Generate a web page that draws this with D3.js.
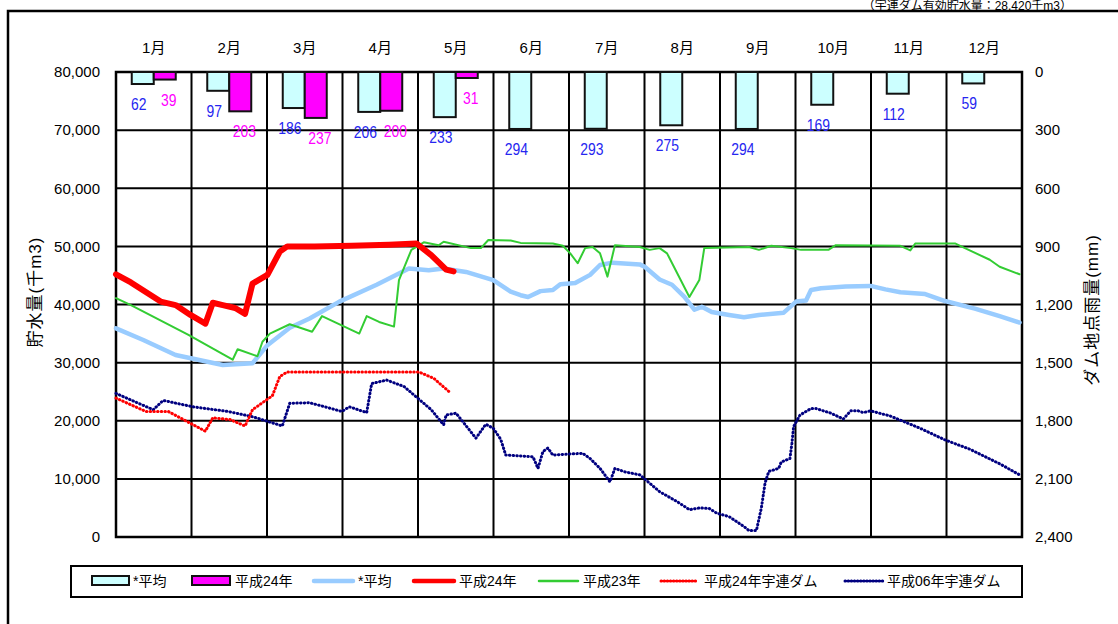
<!DOCTYPE html>
<html><head><meta charset="utf-8">
<script src="https://cdn.jsdelivr.net/npm/d3@7"></script>
<style>
body{margin:0;background:#fff}
svg{display:block}
text{font-family:"Liberation Sans","Noto Sans CJK JP",sans-serif;fill:#000}
</style>
</head><body>
<svg id="c" width="1118" height="624"></svg>
<script>
// ---------- data ----------
const months = ["1月","2月","3月","4月","5月","6月","7月","8月","9月","10月","11月","12月"];
const rainAvg = [62,97,186,206,233,294,293,275,294,169,112,59];
const rainH24 = [39,203,237,200,31,null,null,null,null,null,null,null];
const storageTicks = [0,10000,20000,30000,40000,50000,60000,70000,80000];
const rainTicks = [0,300,600,900,1200,1500,1800,2100,2400];

// [day of year, storage (千m3)]
const avgStorage = [[0,35900],[11,33900],[24,31300],[43,29600],[55,29900],[61,33000],[70,36000],[78,37600],[90,40500],[105,43400],[118,46200],[126,45900],[132,46200],[141,45600],[152,44200],[159,42200],[163,41600],[166,41300],[171,42300],[176,42500],[179,43500],[185,43700],[191,45100],[195,46800],[200,47200],[211,46900],[213,46500],[219,44300],[224,43400],[229,41300],[233,39100],[236,39600],[240,38700],[247,38200],[253,37800],[259,38200],[269,38600],[274,40500],[278,40700],[280,42500],[284,42800],[294,43100],[304,43200],[310,42600],[316,42100],[326,41800],[334,40600],[346,39300],[356,38000],[364,36900]];
const h24Storage = [[0,45200],[6,43800],[18,40500],[24,39900],[30,38200],[36,36700],[39,40300],[43,39900],[48,39400],[52,38400],[55,43600],[61,45100],[66,49100],[69,50000],[80,50000],[95,50100],[110,50300],[121,50500],[127,48500],[133,46000],[136,45700]];
const h23Storage = [[0,41100],[6,39900],[29,34800],[47,30500],[49,32300],[57,31100],[59,33600],[62,35000],[70,36600],[79,35300],[83,38000],[98,35000],[101,38000],[106,37000],[112,36200],[114,44200],[119,49400],[124,50700],[130,50200],[132,50800],[143,49700],[147,49700],[150,51100],[159,51000],[163,50600],[176,50500],[180,50100],[183,48800],[186,47100],[189,49700],[192,49900],[195,48800],[198,44800],[201,50200],[211,49900],[215,49400],[219,49700],[222,48800],[231,41300],[235,44200],[237,49700],[255,49900],[259,49400],[264,50100],[272,49700],[276,49400],[287,49400],[290,50200],[316,50100],[320,49300],[322,50500],[338,50500],[342,49700],[352,47700],[356,46500],[364,45200]];
const h24Ure = [[0,23900],[12,21600],[21,21600],[36,18200],[39,20500],[46,20200],[52,19100],[55,21900],[63,24300],[66,27600],[69,28400],[122,28400],[128,27300],[135,24700]];
const h06Ure = [[0,24700],[15,21900],[19,23500],[31,22400],[45,21600],[55,20700],[67,19100],[70,23000],[78,23100],[91,21600],[94,22400],[101,21400],[103,26400],[109,27000],[116,25900],[127,21900],[132,19300],[133,21000],[137,21300],[145,17000],[149,19400],[152,18700],[155,16800],[157,14100],[168,13800],[170,11800],[172,14700],[174,15300],[176,14100],[188,14400],[191,13500],[195,11800],[199,9500],[201,11800],[205,11200],[211,10700],[219,7800],[226,6100],[231,4700],[235,5000],[239,4900],[242,4100],[247,3500],[253,1800],[255,1100],[258,1100],[260,5000],[261.5,9300],[263,11300],[267,11800],[268,12900],[271.5,13500],[272.3,16100],[273,19000],[274.4,20100],[275.6,21000],[280,22100],[282,22100],[288,21300],[293,20300],[296,21700],[299,21700],[301,21400],[304,21700],[312,20800],[316,20100],[324,18700],[334,16700],[344,15100],[356,12600],[364,10700]];

const legendLabels = ["*平均","平成24年","*平均","平成24年","平成23年","平成24年宇連ダム","平成06年宇連ダム"];

// ---------- layout ----------
const L = 116, R = 1022, T = 72, B = 537;
const svg = d3.select("#c");

const xMonth = d3.scaleBand().domain(months).range([L, R]).paddingInner(0).paddingOuter(0);
const xSub = d3.scaleBand().domain(["avg","h24"]).range([15.75, 59.75]);
const xDay = d3.scaleLinear().domain([0, 365]).range([L, R]);
const yS = d3.scaleLinear().domain([0, 80000]).range([B, T]);
const yR = d3.scaleLinear().domain([0, 2400]).range([T, B]);

// outer frame
svg.append("rect").attr("x", 8).attr("y", 11).attr("width", 1200).attr("height", 700)
  .attr("fill", "none").attr("stroke", "#000").attr("stroke-width", 2.5);

// top note
svg.append("text").attr("x", 1072).attr("y", 9.5).attr("text-anchor", "end")
  .style("font-size", "12px").text("（宇連ダム有効貯水量：28,420千m3）");

// grid
const grid = svg.append("g");
grid.selectAll("line.h").data(storageTicks).join("line")
  .attr("x1", L).attr("x2", R).attr("y1", d => yS(d)).attr("y2", d => yS(d))
  .attr("stroke", "#000").attr("stroke-width", 2);
grid.selectAll("line.v").data(months.slice(1)).join("line")
  .attr("x1", d => xMonth(d)).attr("x2", d => xMonth(d)).attr("y1", T).attr("y2", B)
  .attr("stroke", "#000").attr("stroke-width", 2);
svg.append("rect").attr("x", L).attr("y", T).attr("width", R - L).attr("height", B - T)
  .attr("fill", "none").attr("stroke", "#000").attr("stroke-width", 2.5);

// axes
const axL = d3.axisLeft(yS).tickValues(storageTicks).tickSize(0).tickPadding(16).tickFormat(d3.format(","));
const gL = svg.append("g").attr("transform", `translate(${L},0)`).call(axL);
gL.select(".domain").remove();
gL.selectAll("text").style("font-size", "15px").attr("fill", "#000").style("font-family", '"Liberation Sans",sans-serif');

const axR = d3.axisRight(yR).tickValues(rainTicks).tickSize(0).tickPadding(13).tickFormat(d3.format(","));
const gR = svg.append("g").attr("transform", `translate(${R},0)`).call(axR);
gR.select(".domain").remove();
gR.selectAll("text").style("font-size", "15px").attr("fill", "#000").style("font-family", '"Liberation Sans",sans-serif');

const axT = d3.axisTop(xMonth).tickSize(0).tickPadding(19);
const gT = svg.append("g").attr("transform", `translate(0,${T})`).call(axT);
gT.select(".domain").remove();
gT.selectAll("text").style("font-size", "15px").attr("fill", "#000");

// axis titles
svg.append("text").attr("transform", "translate(41,292) rotate(-90)").attr("text-anchor", "middle")
  .style("font-size", "17px").style("letter-spacing", "1px").text("貯水量(千m3)");
svg.append("text").attr("transform", "translate(1098,310) rotate(-90)").attr("text-anchor", "middle")
  .style("font-size", "17px").style("letter-spacing", "1px").text("ダム地点雨量(mm)");

// bars
const bars = svg.append("g");
bars.selectAll("rect.avg").data(months).join("rect")
  .attr("x", d => xMonth(d) + xSub("avg")).attr("width", xSub.bandwidth())
  .attr("y", T).attr("height", (d, i) => yR(rainAvg[i]) - T)
  .attr("fill", "#CCFFFF").attr("stroke", "#111").attr("stroke-width", 2);
bars.selectAll("rect.h24").data(months.filter((d, i) => rainH24[i] != null)).join("rect")
  .attr("x", d => xMonth(d) + xSub("h24")).attr("width", xSub.bandwidth())
  .attr("y", T).attr("height", (d, i) => yR(rainH24[i]) - T)
  .attr("fill", "#FF00FF").attr("stroke", "#111").attr("stroke-width", 2);

// bar labels (tall, narrow digits)
const lab = svg.append("g").style("font-size", "17px");
lab.selectAll("text.avg").data(months).join("text")
  .attr("transform", (d, i) => `translate(${xMonth(d) + xSub("avg") + xSub.bandwidth() / 2 - 4},${yR(rainAvg[i]) + 20}) scale(0.82,1)`)
  .attr("dy", "0.35em").attr("text-anchor", "middle")
  .style("fill", "#2626F0").text((d, i) => rainAvg[i]);
lab.selectAll("text.h24").data(months.filter((d, i) => rainH24[i] != null)).join("text")
  .attr("transform", (d, i) => `translate(${xMonth(d) + xSub("h24") + xSub.bandwidth() / 2 + 4},${yR(rainH24[i]) + 20}) scale(0.82,1)`)
  .attr("dy", "0.35em").attr("text-anchor", "middle")
  .style("fill", "#FF00FF").text((d, i) => rainH24[i]);

// lines
const line = d3.line().x(d => xDay(d[0])).y(d => yS(d[1]));
const series = [
  {data: avgStorage, color: "#99CCFF", w: 4.5, dash: null},
  {data: h23Storage, color: "#33CC33", w: 2, dash: null},
  {data: h06Ure, color: "#000080", w: 3, dash: "0.5 3.2"},
  {data: h24Ure, color: "#FF0000", w: 3, dash: "0.5 3.2"},
  {data: h24Storage, color: "#FF0000", w: 6, dash: null}
];
svg.append("g").selectAll("path").data(series).join("path")
  .attr("d", d => line(d.data)).attr("fill", "none")
  .attr("stroke", d => d.color).attr("stroke-width", d => d.w)
  .attr("stroke-linejoin", "round").attr("stroke-linecap", "round")
  .attr("stroke-dasharray", d => d.dash);

// legend
const lg = svg.append("g");
lg.append("rect").attr("x", 71).attr("y", 566).attr("width", 951).attr("height", 31)
  .attr("fill", "#fff").attr("stroke", "#000").attr("stroke-width", 2);
const ly = 581;
const items = [
  {type: "bar", fill: "#CCFFFF", x0: 92, x1: 129, tx: 133},
  {type: "bar", fill: "#FF00FF", x0: 192, x1: 230, tx: 235},
  {type: "line", color: "#99CCFF", w: 4.5, dash: null, x0: 314, x1: 353, tx: 358},
  {type: "line", color: "#FF0000", w: 4.5, dash: null, x0: 414, x1: 454, tx: 459},
  {type: "line", color: "#33CC33", w: 2.5, dash: null, x0: 539, x1: 578, tx: 583},
  {type: "line", color: "#FF0000", w: 3, dash: "0.5 2.6", x0: 661, x1: 698, tx: 704},
  {type: "line", color: "#000080", w: 3, dash: "0.5 2.6", x0: 845, x1: 883, tx: 887}
];
items.forEach((it, i) => {
  if (it.type === "bar") {
    lg.append("rect").attr("x", it.x0).attr("y", ly - 5).attr("width", it.x1 - it.x0).attr("height", 9)
      .attr("fill", it.fill).attr("stroke", "#111").attr("stroke-width", 2);
  } else {
    lg.append("line").attr("x1", it.x0).attr("x2", it.x1).attr("y1", ly).attr("y2", ly)
      .attr("stroke", it.color).attr("stroke-width", it.w).attr("stroke-linecap", "round")
      .attr("stroke-dasharray", it.dash);
  }
  lg.append("text").attr("x", it.tx).attr("y", ly).attr("dy", "0.36em")
    .style("font-size", "14px").text(legendLabels[i]);
});
</script>
</body></html>
